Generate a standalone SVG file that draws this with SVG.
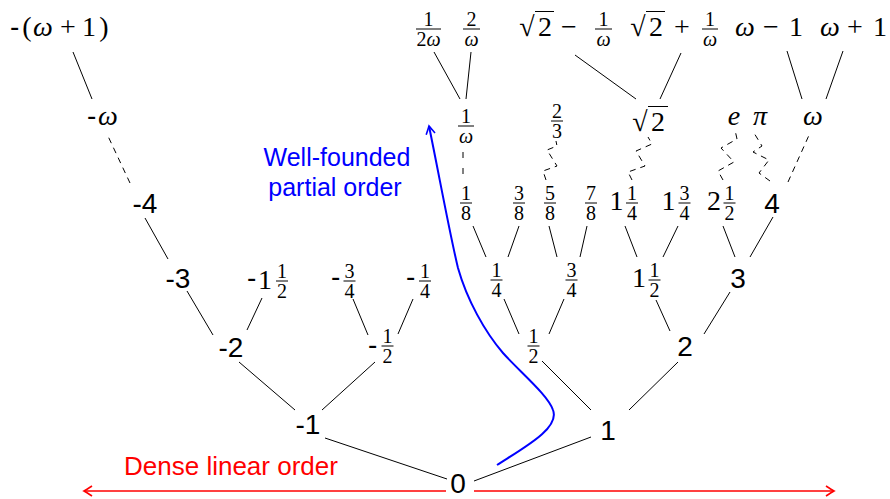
<svg xmlns="http://www.w3.org/2000/svg" width="890" height="499" viewBox="0 0 890 499">
<style>
.n{font-family:"Liberation Sans",Arial,sans-serif;font-size:28px;text-anchor:middle;fill:#000}
.h{font-family:"Liberation Sans",Arial,sans-serif;font-size:28px;fill:#000}
.m{font-family:"Liberation Serif","Times New Roman",serif;font-size:28px;fill:#000;text-anchor:middle}
.f{font-family:"Liberation Serif","Times New Roman",serif;font-size:20px;fill:#000;text-anchor:middle}
.i{font-style:italic}
.e{stroke:#000;stroke-width:1;fill:none}
.d{stroke-dasharray:6 5}
.b{stroke:#000;stroke-width:1}
.lbl{font-family:"Liberation Sans",Arial,sans-serif;font-size:25px}
.lbl2{font-family:"Liberation Sans",Arial,sans-serif;font-size:26px}
</style>
<defs>
<marker id="ar" markerUnits="userSpaceOnUse" markerWidth="14" markerHeight="14" viewBox="-10 -7 12 14" refX="0" refY="0" orient="auto-start-reverse"><path d="M-8,-5 Q-2,-1 0,0 Q-2,1 -8,5" fill="none" stroke="#f00" stroke-width="1.6"/></marker>
<marker id="ab" markerUnits="userSpaceOnUse" markerWidth="14" markerHeight="14" viewBox="-10 -7 12 14" refX="0" refY="0" orient="auto"><path d="M-8,-4.5 Q-2,-1 0,0 Q-2,1 -8,4.5" fill="none" stroke="#00f" stroke-width="1.6"/></marker>
</defs>
<rect width="890" height="499" fill="#fff"/>

<g id="connectors">
<line class="e" x1="447" y1="479" x2="325" y2="438"/>
<line class="e" x1="474" y1="481" x2="591" y2="437"/>
<line class="e" x1="295" y1="410" x2="239" y2="362"/>
<line class="e" x1="322" y1="410" x2="375" y2="362"/>
<line class="e" x1="591" y1="410" x2="542" y2="361"/>
<line class="e" x1="629" y1="410" x2="678" y2="362"/>
<line class="e" x1="213" y1="335" x2="187" y2="291"/>
<line class="e" x1="247" y1="330" x2="262" y2="298"/>
<line class="e" x1="368" y1="335" x2="353" y2="299"/>
<line class="e" x1="398" y1="334" x2="413" y2="299"/>
<line class="e" x1="519" y1="334" x2="504" y2="299"/>
<line class="e" x1="549" y1="334" x2="564" y2="299"/>
<line class="e" x1="670" y1="331" x2="656" y2="300"/>
<line class="e" x1="704" y1="334" x2="730" y2="292"/>
<line class="e" x1="168" y1="259" x2="145" y2="218"/>
<line class="e" x1="486" y1="257" x2="473" y2="226"/>
<line class="e" x1="508" y1="257" x2="519" y2="226"/>
<line class="e" x1="557" y1="257" x2="549" y2="226"/>
<line class="e" x1="580" y1="257" x2="587" y2="226"/>
<line class="e" x1="637" y1="257" x2="625" y2="226"/>
<line class="e" x1="663" y1="257" x2="678" y2="226"/>
<line class="e" x1="735" y1="257" x2="723" y2="226"/>
<line class="e" x1="750" y1="257" x2="773" y2="217"/>
<line class="e" x1="92" y1="99" x2="73" y2="52"/>
<line class="e" x1="460" y1="99" x2="434" y2="52"/>
<line class="e" x1="466" y1="99" x2="471" y2="52"/>
<line class="e" x1="636" y1="99" x2="575" y2="55"/>
<line class="e" x1="660" y1="99" x2="681" y2="53"/>
<line class="e" x1="802" y1="99" x2="787" y2="51"/>
<line class="e" x1="826" y1="99" x2="843" y2="51"/>
<line class="e d" x1="130" y1="183" x2="107" y2="134"/>
<line class="e" x1="463" y1="152" x2="463" y2="176" stroke-dasharray="6 10"/>
<path class="e d" d="M546,180 L543,171 L557,166 L547,150 L557,146 L556,141"/>
<path class="e d" d="M632,180 L628,172 L645,166 L636,151 L652,144 L648,137"/>
<path class="e d" d="M723,180 L718,171 L734,162 L721,148 L737,139 L735,130"/>
<path class="e d" d="M770,181 L759,173 L769,160 L753,152 L762,146 L754,133"/>
<line class="e d" x1="788" y1="182" x2="810" y2="133"/>
</g>

<g id="dense-order">
<line x1="446" y1="491" x2="84" y2="491" stroke="#f00" stroke-width="1.6" marker-end="url(#ar)"/>
<line x1="474" y1="491" x2="834" y2="491" stroke="#f00" stroke-width="1.6" marker-end="url(#ar)"/>
<text class="lbl2" x="124" y="475" fill="#f00">Dense linear order</text>
</g>

<g id="well-founded">
<path d="M497,465 C525,447 560,428 553,410 C548,395 520,372 503,353 C485,332 467,300 458,268 C450,235 440,180 429,126" fill="none" stroke="#00f" stroke-width="2" marker-end="url(#ab)"/>
<text class="lbl" x="337" y="166" fill="#00f" text-anchor="middle">Well-founded</text>
<text class="lbl" x="335" y="196" fill="#00f" text-anchor="middle">partial order</text>
</g>

<g id="n0"><text class="n" x="458" y="493">0</text></g>
<g id="n-1"><text class="n" x="308" y="434">-1</text></g>
<g id="n1"><text class="n" x="608" y="440">1</text></g>
<g id="n-2"><text class="n" x="231" y="357">-2</text></g>
<g id="n2"><text class="n" x="685" y="356">2</text></g>
<g id="n-3"><text class="n" x="178" y="288">-3</text></g>
<g id="n3"><text class="n" x="738" y="288">3</text></g>
<g id="n-4"><text class="n" x="145" y="213">-4</text></g>
<g id="n4"><text class="n" x="772" y="213">4</text></g>

<g id="n-1h"><text class="h" x="247" y="287">-</text><text class="m" x="265" y="289">1</text>
<text class="f" x="282" y="278">1</text><line class="b" x1="276" y1="281" x2="288" y2="281"/><text class="f" x="282" y="298">2</text></g>
<g id="n-3q"><text class="h" x="331" y="286">-</text>
<text class="f" x="349.5" y="278">3</text><line class="b" x1="343.5" y1="281" x2="355.5" y2="281"/><text class="f" x="349.5" y="298">4</text></g>
<g id="n-1q"><text class="h" x="406" y="286">-</text>
<text class="f" x="425" y="278">1</text><line class="b" x1="419" y1="281" x2="431" y2="281"/><text class="f" x="425" y="298">4</text></g>
<g id="n-half"><text class="h" x="368" y="354">-</text>
<text class="f" x="387.5" y="343">1</text><line class="b" x1="381.5" y1="346" x2="393.5" y2="346"/><text class="f" x="387.5" y="363">2</text></g>
<g id="nhalf">
<text class="f" x="533.5" y="343">1</text><line class="b" x1="527.5" y1="346" x2="539.5" y2="346"/><text class="f" x="533.5" y="363">2</text></g>
<g id="nq1">
<text class="f" x="496.5" y="277">1</text><line class="b" x1="490.5" y1="280" x2="502.5" y2="280"/><text class="f" x="496.5" y="297">4</text></g>
<g id="nq3">
<text class="f" x="571.5" y="277">3</text><line class="b" x1="565.5" y1="280" x2="577.5" y2="280"/><text class="f" x="571.5" y="297">4</text></g>
<g id="n1h"><text class="m" x="639" y="287">1</text>
<text class="f" x="654.5" y="277">1</text><line class="b" x1="648.5" y1="280" x2="660.5" y2="280"/><text class="f" x="654.5" y="297">2</text></g>

<g id="n1e">
<text class="f" x="466" y="200">1</text><line class="b" x1="460" y1="203" x2="472" y2="203"/><text class="f" x="466" y="220">8</text></g>
<g id="n3e">
<text class="f" x="519" y="200">3</text><line class="b" x1="513" y1="203" x2="525" y2="203"/><text class="f" x="519" y="220">8</text></g>
<g id="n5e">
<text class="f" x="550" y="200">5</text><line class="b" x1="544" y1="203" x2="556" y2="203"/><text class="f" x="550" y="220">8</text></g>
<g id="n7e">
<text class="f" x="591" y="200">7</text><line class="b" x1="585" y1="203" x2="597" y2="203"/><text class="f" x="591" y="220">8</text></g>
<g id="n1q1"><text class="m" x="616.5" y="210">1</text>
<text class="f" x="632" y="200">1</text><line class="b" x1="626" y1="203" x2="638" y2="203"/><text class="f" x="632" y="220">4</text></g>
<g id="n1q3"><text class="m" x="668.5" y="210">1</text>
<text class="f" x="684.5" y="200">3</text><line class="b" x1="678.5" y1="203" x2="690.5" y2="203"/><text class="f" x="684.5" y="220">4</text></g>
<g id="n2h"><text class="m" x="714" y="210">2</text>
<text class="f" x="729.5" y="200">1</text><line class="b" x1="723.5" y1="203" x2="735.5" y2="203"/><text class="f" x="729.5" y="220">2</text></g>

<g id="n-omega"><text class="h" x="87" y="125">-</text><text class="m i" x="108" y="125">ω</text></g>
<g id="ninvomega">
<text class="f" x="466" y="123">1</text><line class="b" x1="458" y1="126" x2="474" y2="126"/><text class="f i" x="466" y="143">ω</text></g>
<g id="ntwothirds">
<text class="f" x="557" y="118">2</text><line class="b" x1="551" y1="121" x2="563" y2="121"/><text class="f" x="557" y="138">3</text></g>
<g id="nsqrt2"><text class="m" x="640" y="131">√</text><line class="b" x1="648" y1="106.5" x2="668" y2="106.5"/><text class="m" x="658" y="131">2</text></g>
<g id="ne"><text class="m i" x="734" y="125">e</text></g>
<g id="npi"><text class="m i" x="760" y="125">π</text></g>
<g id="nomega"><text class="m i" x="813" y="125">ω</text></g>

<g id="n-omega1"><text class="h" x="10" y="36">-</text><text class="m" x="27" y="36">(</text><text class="m i" x="43" y="36">ω</text><text class="m" x="68" y="36">+</text><text class="m" x="89" y="36">1</text><text class="m" x="104" y="36">)</text></g>
<g id="n-half-omega">
<text class="f" x="428.5" y="26">1</text><line class="b" x1="416" y1="29" x2="441" y2="29"/><text class="f" x="428.5" y="46">2<tspan class="i">ω</tspan></text></g>
<g id="n-two-omega">
<text class="f" x="471.5" y="26">2</text><line class="b" x1="463" y1="29" x2="480" y2="29"/><text class="f i" x="471.5" y="46">ω</text></g>
<g id="n-sqrt2-minus"><text class="m" x="527" y="36">√</text><line class="b" x1="535" y1="11.5" x2="554" y2="11.5"/><text class="m" x="545" y="36">2</text><text class="m" x="569" y="36">−</text>
<text class="f" x="603.5" y="26">1</text><line class="b" x1="595" y1="29" x2="612" y2="29"/><text class="f i" x="603.5" y="46">ω</text></g>
<g id="n-sqrt2-plus"><text class="m" x="638" y="36">√</text><line class="b" x1="646" y1="11.5" x2="665" y2="11.5"/><text class="m" x="656" y="36">2</text><text class="m" x="682" y="36">+</text>
<text class="f" x="710" y="26">1</text><line class="b" x1="702" y1="29" x2="718" y2="29"/><text class="f i" x="710" y="46">ω</text></g>
<g id="n-omega-minus"><text class="m i" x="745" y="36">ω</text><text class="m" x="771" y="36">−</text><text class="m" x="796" y="36">1</text></g>
<g id="n-omega-plus"><text class="m i" x="830" y="36">ω</text><text class="m" x="855" y="36">+</text><text class="m" x="880" y="36">1</text></g>
</svg>
